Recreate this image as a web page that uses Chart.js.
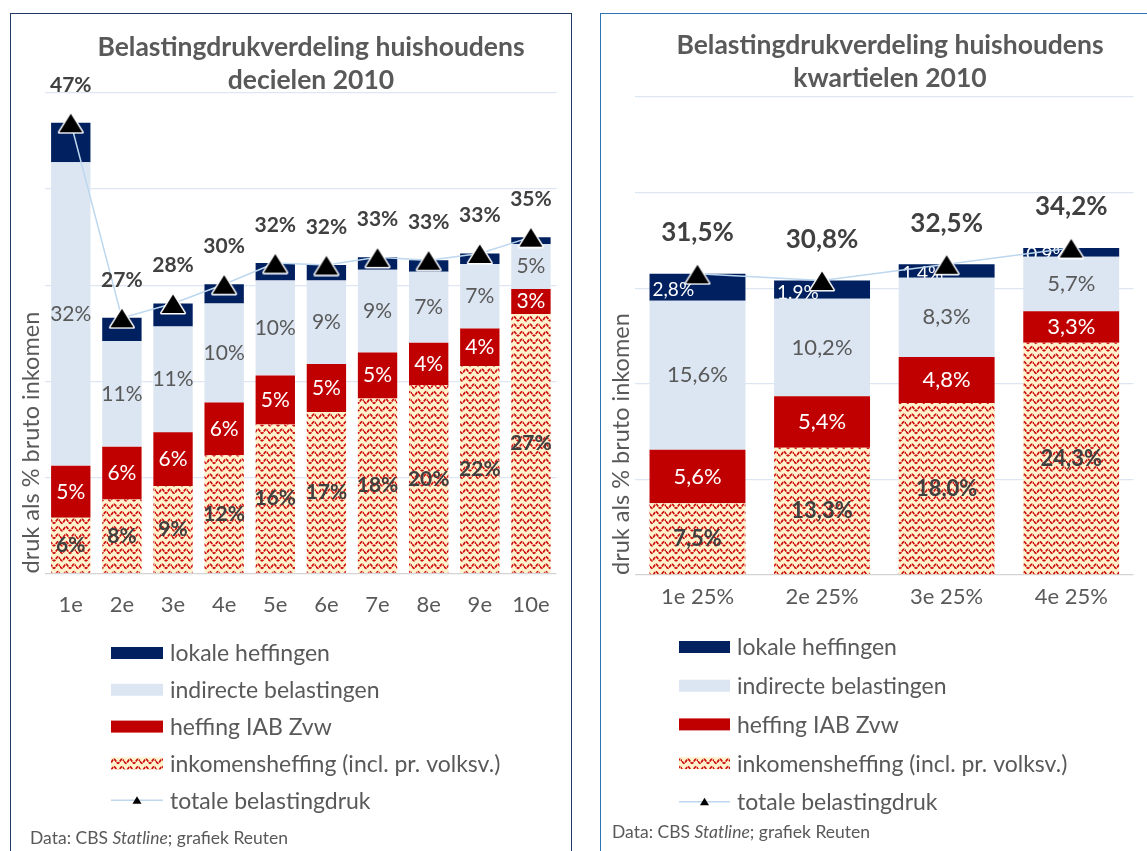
<!DOCTYPE html>
<html>
<head>
<meta charset="utf-8">
<script src="https://cdn.jsdelivr.net/npm/chart.js@4.4.1/dist/chart.umd.min.js"></script>
<style>
html, body { margin:0; padding:0; background:#fff; width:1147px; height:851px; overflow:hidden; }
.card { position:absolute; box-sizing:border-box; }
#cardL { left:10px; top:13px; width:562px; height:900px; border:1.5px solid #1f3864; }
#cardR { left:600px; top:13px; width:700px; height:900px; border:1.5px solid #2e75b6; }
canvas { position:absolute; }
#chartL { left:12px; top:15px; width:558px; height:836px; }
#chartR { left:602px; top:15px; width:545px; height:836px; }
</style>
</head>
<body>
<div class="card" id="cardL"></div>
<div class="card" id="cardR"></div>
<canvas id="chartL" width="558" height="836"></canvas>
<canvas id="chartR" width="545" height="836"></canvas>
<script>
// decielen 2010
var decielen = ['1e', '2e', '3e', '4e', '5e', '6e', '7e', '8e', '9e', '10e'];
var decLokaal = [4.1, 2.4, 2.4, 2.0, 1.8, 1.6, 1.3, 1.2, 1.1, 0.7];
var decIndirect = [31.6, 11.0, 11.0, 10.3, 9.9, 8.7, 8.6, 7.4, 6.7, 4.7];
var decIab = [5.4, 5.5, 5.6, 5.5, 5.1, 5.0, 4.8, 4.4, 3.9, 2.6];
var decInkomen = [5.8, 7.7, 9.1, 12.3, 15.5, 16.8, 18.2, 19.6, 21.6, 27.0];
var decTotaal = [46.9, 26.6, 28.1, 30.1, 32.3, 32.1, 32.9, 32.6, 33.3, 35.0];

// kwartielen 2010
var kwartielen = ['1e 25%', '2e 25%', '3e 25%', '4e 25%'];
var kwLokaal = [2.8, 1.9, 1.4, 0.9];
var kwIndirect = [15.6, 10.2, 8.3, 5.7];
var kwIab = [5.6, 5.4, 4.8, 3.3];
var kwInkomen = [7.5, 13.3, 18.0, 24.3];
var kwTotaal = [31.5, 30.8, 32.5, 34.2];

var seriesNames = ['lokale heffingen', 'indirecte belastingen', 'heffing IAB Zvw', 'inkomensheffing (incl. pr. volksv.)', 'totale belastingdruk'];
var yTitle = 'druk als % bruto inkomen';

var FONT = 'Lato, "Liberation Sans", sans-serif';
var GREY = '#595959';

function fmt(v, dec) {
	return v.toFixed(dec).replace('.', ',') + '%';
}

// triangle marker, black with white rim
function triangleImg(w, h) {
	var c = document.createElement('canvas');
	c.width = w; c.height = h;
	var g = c.getContext('2d');
	g.beginPath();
	g.moveTo(w / 2, 2.5);
	g.lineTo(w - 2.5, h - 2);
	g.lineTo(2.5, h - 2);
	g.closePath();
	g.lineJoin = 'round';
	g.lineWidth = 3;
	g.strokeStyle = '#fff';
	g.stroke();
	g.fillStyle = '#000';
	g.fill();
	return c;
}

function wavePattern(ctx) {
	var c = document.createElement('canvas');
	c.width = 16; c.height = 15;
	var g = c.getContext('2d');
	g.fillStyle = '#fff2cc';
	g.fillRect(0, 0, 16, 15);
	g.strokeStyle = '#cc1010';
	g.lineWidth = 1.7;
	g.setLineDash([3.5, 0.8]);
	[3.75, 11.25].forEach(function(yc) {
		g.beginPath();
		for (var x = 0; x <= 16; x += 0.5) {
			var y = yc + 2.0 * Math.sin(2 * Math.PI * x / 8);
			if (x === 0) g.moveTo(x, y); else g.lineTo(x, y);
		}
		g.stroke();
	});
	return ctx.createPattern(c, 'repeat');
}

var extras = {
	id: 'extras',
	afterDatasetDraw: function(chart, args, opts) {
		var ds = chart.data.datasets[args.index];
		if (!ds.lbl || ds.type === 'line') return;
		var ctx = chart.ctx;
		ctx.save();
		ctx.font = ds.lbl.weight + ' ' + ds.lbl.size + 'px ' + FONT;
		ctx.fillStyle = ds.lbl.color;
		ctx.textBaseline = 'middle';
		args.meta.data.forEach(function(el, j) {
			var x = el.x;
			var y = (el.y + el.base) / 2 + (ds.lbl.dy || 0);
			if (ds.lbl.align === 'start') {
				ctx.textAlign = 'left';
				x = el.x - el.width / 2 + 3;
			} else {
				ctx.textAlign = 'center';
			}
			ctx.fillText(fmt(ds.data[j], opts.decimals), x, y);
		});
		ctx.restore();
	},
	afterDatasetsDraw: function(chart, args, opts) {
		var ctx = chart.ctx;
		ctx.save();
		chart.data.datasets.forEach(function(ds, i) {
			if (ds.type !== 'line') return;
			var meta = chart.getDatasetMeta(i);
			ctx.font = 'bold ' + opts.totalSize + 'px ' + FONT;
			ctx.fillStyle = '#404040';
			ctx.textAlign = 'center';
			ctx.textBaseline = 'middle';
			meta.data.forEach(function(el, j) {
				ctx.fillText(fmt(ds.data[j], opts.decimals), el.x, el.y - opts.totalGap);
			});
		});
		ctx.restore();
	},
	afterDraw: function(chart, args, opts) {
		var ctx = chart.ctx;
		ctx.save();

		// title
		ctx.font = 'bold ' + opts.titleSize + 'px ' + FONT;
		ctx.fillStyle = GREY;
		ctx.textAlign = 'center';
		ctx.textBaseline = 'middle';
		opts.title.forEach(function(t, k) {
			ctx.fillText(t, opts.titleX, opts.titleY[k]);
		});

		// legend, top of stack first
		var items = [];
		var bars = chart.data.datasets.filter(function(d) { return d.type !== 'line'; });
		for (var b = bars.length - 1; b >= 0; b--) items.push(bars[b]);
		chart.data.datasets.forEach(function(d) { if (d.type === 'line') items.push(d); });

		ctx.font = opts.legendSize + 'px ' + FONT;
		ctx.textAlign = 'left';
		items.forEach(function(d, k) {
			var y = opts.legendY + k * opts.legendStep;
			var x0 = opts.legendX, w = opts.swatchW;
			if (d.type === 'line') {
				ctx.strokeStyle = d.borderColor;
				ctx.lineWidth = 1.5;
				ctx.beginPath();
				ctx.moveTo(x0, y);
				ctx.lineTo(x0 + w, y);
				ctx.stroke();
				ctx.fillStyle = '#000';
				ctx.beginPath();
				ctx.moveTo(x0 + w / 2, y - 4);
				ctx.lineTo(x0 + w / 2 + 4.5, y + 3.5);
				ctx.lineTo(x0 + w / 2 - 4.5, y + 3.5);
				ctx.closePath();
				ctx.fill();
			} else {
				ctx.fillStyle = d.backgroundColor;
				ctx.fillRect(x0, y - 6, w, 12);
			}
			ctx.fillStyle = GREY;
			ctx.fillText(d.label, x0 + w + 7, y + 1);
		});

		// source line
		var sx = opts.sourceX, sy = opts.sourceY;
		ctx.fillStyle = GREY;
		ctx.font = opts.sourceSize + 'px ' + FONT;
		ctx.fillText('Data: CBS ', sx, sy);
		sx += ctx.measureText('Data: CBS ').width;
		ctx.font = 'italic ' + opts.sourceSize + 'px ' + FONT;
		ctx.fillText('Statline', sx, sy);
		sx += ctx.measureText('Statline').width;
		ctx.font = opts.sourceSize + 'px ' + FONT;
		ctx.fillText('; grafiek Reuten', sx, sy);

		ctx.restore();
	}
};

function makeChart(id, labels, lokaal, indirect, iab, inkomen, totaal, cfg) {
	var canvas = document.getElementById(id);
	var ctx = canvas.getContext('2d');
	var tri = triangleImg(28, 23);

	var lokaalLbl = cfg.lokaalLabels ? { color: '#fff', weight: 'normal', size: cfg.smallSize, align: 'start', dy: 3 } : null;

	return new Chart(ctx, {
		type: 'bar',
		data: {
			labels: labels,
			datasets: [
				{ label: seriesNames[3], data: inkomen, backgroundColor: wavePattern(ctx), order: 1,
					lbl: { color: '#404040', weight: 'bold', size: cfg.segSize } },
				{ label: seriesNames[2], data: iab, backgroundColor: '#c00000', order: 1,
					lbl: { color: '#fff', weight: 'normal', size: cfg.segSize } },
				{ label: seriesNames[1], data: indirect, backgroundColor: '#dce6f2', order: 1,
					lbl: { color: GREY, weight: 'normal', size: cfg.segSize } },
				{ label: seriesNames[0], data: lokaal, backgroundColor: '#002060', order: 1,
					lbl: lokaalLbl },
				{ type: 'line', label: seriesNames[4], data: totaal, stack: 'tot', order: 0,
					borderColor: '#bdd7ee', borderWidth: 1.5, tension: 0,
					pointStyle: tri, pointRadius: 12, pointHoverRadius: 12 }
			]
		},
		options: {
			responsive: false,
			animation: false,
			events: [],
			layout: { padding: { top: cfg.padTop, bottom: cfg.padBottom, left: 0, right: cfg.padRight } },
			datasets: { bar: { categoryPercentage: 0.77, barPercentage: 1, borderWidth: 0 } },
			scales: {
				x: {
					stacked: true,
					grid: { display: false, drawTicks: false },
					border: { display: false },
					ticks: { color: GREY, padding: cfg.tickPad, font: { family: FONT, size: 22 } },
					afterFit: function(scale) { scale.height = 50; }
				},
				y: {
					stacked: true,
					min: 0,
					max: 50,
					ticks: { display: false, stepSize: 10 },
					border: { display: false },
					grid: {
						drawTicks: false,
						lineWidth: 1.3,
						color: function(c) { return c.tick && c.tick.value === 0 ? '#d4d4d4' : '#dde7f3'; }
					},
					title: {
						display: true, text: yTitle, align: 'start', color: GREY,
						font: { family: FONT, size: 23.5 }, padding: { top: 5, bottom: 0 }
					}
				}
			},
			plugins: {
				legend: { display: false },
				title: { display: false },
				tooltip: { enabled: false },
				extras: cfg.extras
			}
		},
		plugins: [extras]
	});
}

makeChart('chartL', decielen, decLokaal, decIndirect, decIab, decInkomen, decTotaal, {
	lokaalLabels: false, segSize: 21, smallSize: 18,
	padTop: 78, padBottom: 227.5, padRight: 7, tickPad: 18.3,
	extras: {
		decimals: 0, totalSize: 21, totalGap: 38,
		title: ['Belastingdrukverdeling huishoudens', 'decielen 2010'],
		titleSize: 26.5, titleX: 299, titleY: [32, 65],
		legendX: 99, legendY: 638, legendStep: 36.8, swatchW: 52, legendSize: 23,
		sourceX: 18, sourceY: 823, sourceSize: 17.5
	}
});

makeChart('chartR', kwartielen, kwLokaal, kwIndirect, kwIab, kwInkomen, kwTotaal, {
	lokaalLabels: true, segSize: 22, smallSize: 19,
	padTop: 82, padBottom: 226, padRight: 1, tickPad: 8.8,
	extras: {
		decimals: 1, totalSize: 26, totalGap: 41,
		title: ['Belastingdrukverdeling huishoudens', 'kwartielen 2010'],
		titleSize: 26.5, titleX: 288, titleY: [30, 63],
		legendX: 77, legendY: 632, legendStep: 38.7, swatchW: 51, legendSize: 23,
		sourceX: 10, sourceY: 817, sourceSize: 17.5
	}
});
</script>
</body>
</html>
